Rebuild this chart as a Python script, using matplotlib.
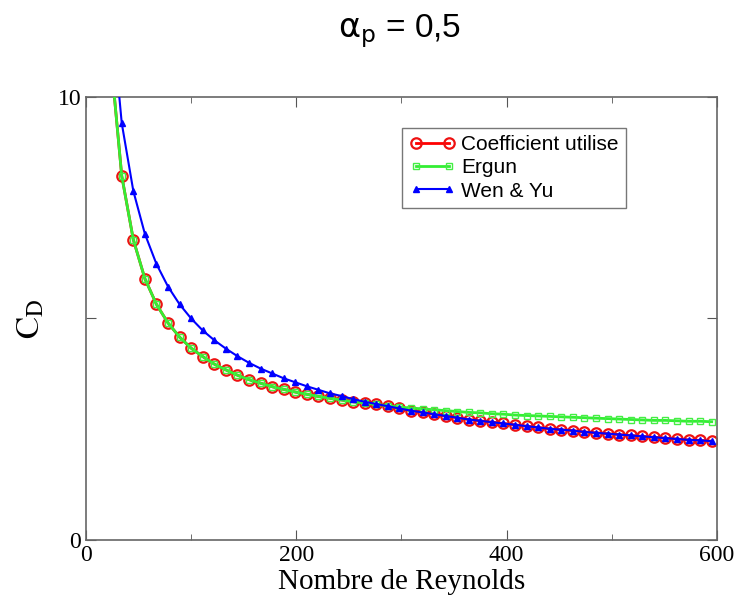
import matplotlib
matplotlib.use("Agg")
import matplotlib.pyplot as plt
from matplotlib.ticker import MultipleLocator

# Reynolds numbers of the computed points
reynolds = [23, 34, 45, 56, 67, 78, 89, 100, 111, 122, 133, 144, 155, 166, 177,
            188, 199, 210, 221, 232, 243, 254, 265, 276, 287, 298, 309, 320, 331,
            342, 353, 364, 375, 386, 397, 408, 419, 430, 441, 452, 463, 474, 485,
            496, 507, 518, 529, 540, 551, 562, 573, 584, 595]

cd_ergun = [11.03, 8.22, 6.78, 5.90, 5.32, 4.90, 4.58, 4.33, 4.14, 3.97, 3.84,
            3.72, 3.62, 3.54, 3.46, 3.40, 3.34, 3.29, 3.24, 3.20, 3.16, 3.12,
            3.09, 3.06, 3.03, 3.00, 2.98, 2.96, 2.94, 2.92, 2.90, 2.88, 2.87,
            2.85, 2.84, 2.82, 2.81, 2.80, 2.79, 2.78, 2.77, 2.76, 2.75, 2.74,
            2.73, 2.72, 2.71, 2.70, 2.70, 2.69, 2.68, 2.68, 2.67]

cd_wen_yu = [12.23, 9.41, 7.88, 6.91, 6.23, 5.72, 5.32, 5.00, 4.73, 4.51, 4.32,
             4.15, 4.00, 3.87, 3.76, 3.65, 3.56, 3.47, 3.39, 3.31, 3.25, 3.18,
             3.12, 3.07, 3.02, 2.97, 2.92, 2.88, 2.84, 2.80, 2.76, 2.72, 2.69,
             2.66, 2.63, 2.60, 2.57, 2.54, 2.51, 2.49, 2.47, 2.44, 2.42, 2.40,
             2.38, 2.36, 2.34, 2.32, 2.30, 2.28, 2.26, 2.25, 2.23]

cd_used = [11.03, 8.22, 6.78, 5.90, 5.32, 4.90, 4.58, 4.33, 4.14, 3.97, 3.84,
           3.72, 3.62, 3.54, 3.46, 3.40, 3.34, 3.29, 3.24, 3.20, 3.16, 3.12,
           3.09, 3.06, 3.02, 2.97, 2.92, 2.88, 2.84, 2.80, 2.76, 2.72, 2.69,
           2.66, 2.63, 2.60, 2.57, 2.54, 2.51, 2.49, 2.47, 2.44, 2.42, 2.40,
           2.38, 2.36, 2.34, 2.32, 2.30, 2.28, 2.26, 2.25, 2.23]

plt.rcParams['mathtext.fontset'] = 'stix'

fig = plt.figure(figsize=(7.4, 6.01), dpi=100)
ax = fig.add_axes([0.1162, 0.1015, 0.8527, 0.7371])

ax.plot(reynolds, cd_used, color='#ff0000', lw=2, marker='o', ms=7.5,
        mfc='none', mec='#ee1111', mew=1.6, label='Coefficient utilise', zorder=2)
ax.plot(reynolds, cd_ergun, color='#33ee33', lw=2, marker='s', ms=4,
        mfc='none', mec='#44ee44', mew=1, label='Ergun', zorder=3)
ax.plot(reynolds, cd_wen_yu, color='#0000ff', lw=1.5, marker='^', ms=5,
        mfc='#0000ff', mec='#0000ff', label='Wen & Yu', zorder=4)

ax.set_xlim(0, 600)
ax.set_ylim(0, 10)
ax.xaxis.set_major_locator(MultipleLocator(200))
ax.xaxis.set_minor_locator(MultipleLocator(100))
ax.set_yticks([0, 5, 10])
ax.set_yticklabels(['0', '', '10'])

ax.tick_params(which='both', direction='in', top=True, right=True,
               color='#555555', labelsize=17)
ax.tick_params(which='major', length=7)
ax.tick_params(which='minor', length=4)
for lab in ax.get_xticklabels() + ax.get_yticklabels():
    lab.set_family('Liberation Serif')
for sp in ax.spines.values():
    sp.set_color('#666666')
    sp.set_linewidth(1.2)

ax.set_xlabel('Nombre de Reynolds', family='Liberation Serif', fontsize=21,
              labelpad=2)
ax.set_ylabel(r'$\mathrm{C_D}$', fontsize=24, labelpad=8)
fig.text(0.5405, 0.9384, r'$\mathrm{\alpha_p}$ = 0,5', family='Liberation Sans',
         fontsize=24, ha='center', va='baseline',
         math_fontfamily='dejavusans')

leg = ax.legend(loc='upper left', bbox_to_anchor=(0.5008, 0.930),
                prop={'family': 'Liberation Sans', 'size': 15},
                fancybox=False, framealpha=1, edgecolor='#777777',
                numpoints=2, handlelength=2.2, handletextpad=0.3,
                labelspacing=0.2, borderpad=0.35, borderaxespad=0)
leg.get_frame().set_linewidth(1)

fig.savefig('out.png', dpi=100)
